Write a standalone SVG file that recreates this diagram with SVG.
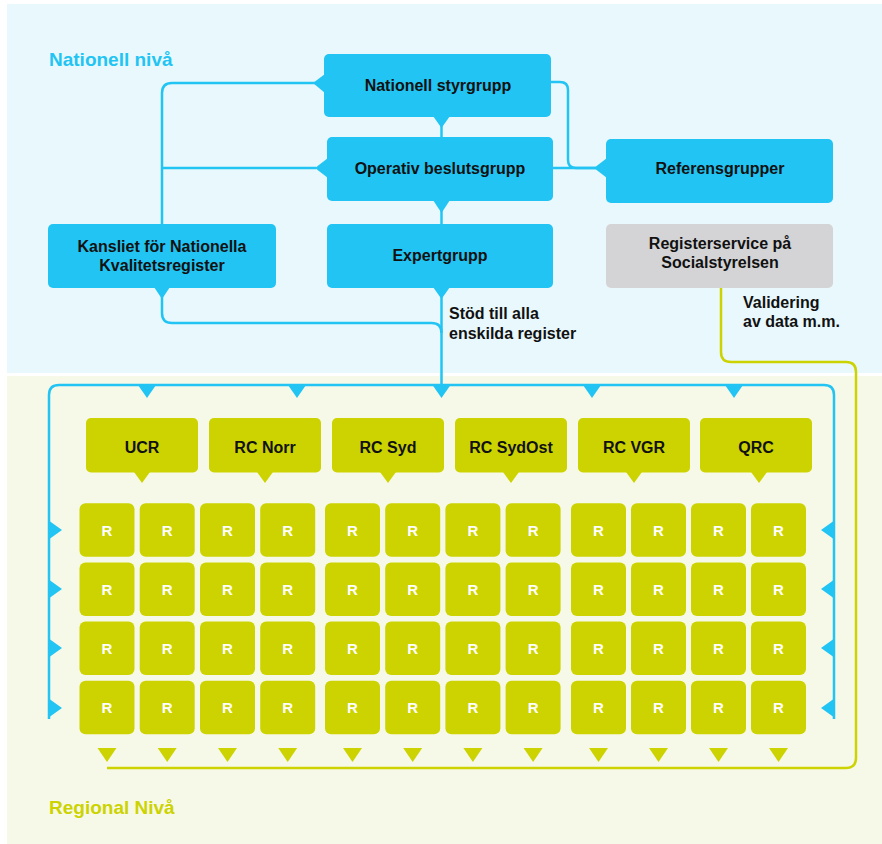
<svg xmlns="http://www.w3.org/2000/svg" width="882" height="844" viewBox="0 0 882 844">
<style>
text{font-family:"Liberation Sans",Arial,Helvetica,sans-serif;font-weight:bold}
.bn{fill:#22c4f3}
.gr{fill:#d4d4d6}
.yg{fill:#ccd300}
.lb{fill:none;stroke:#22c4f3;stroke-width:2.5}
.ly{fill:none;stroke:#ccd300;stroke-width:2.5}
.ta{fill:#22c4f3}
.ty{fill:#ccd300}
.nt{font-size:16px;fill:#111;text-anchor:middle}
.lt{font-size:16px;fill:#111}
.rt{font-size:15px;fill:#fff;text-anchor:middle}
</style>
<rect x="0" y="0" width="882" height="844" fill="#ffffff"/>
<rect x="7" y="4" width="875" height="369" fill="#e9f8fd"/>
<rect x="7" y="376" width="875" height="468" fill="#f7f9e8"/>
<text x="49" y="66" style="font-size:19px;fill:#22c4f3">Nationell nivå</text>
<text x="49" y="814" style="font-size:19px;fill:#ccd300">Regional Nivå</text>

<g id="connectors">
  <path class="lb" d="M162 224V93Q162 83 172 83H316"/>
  <path class="lb" d="M162 168H316"/>
  <path class="lb" d="M441.5 117V137M441.5 201V224M441.5 288V385"/>
  <path class="lb" d="M551 82H560Q568 82 568 90V160Q568 168 576 168H596"/>
  <path class="lb" d="M553 168H596"/>
  <path class="lb" d="M162 288V313Q162 323 172 323H431.5Q441.5 323 441.5 333"/>
  <path class="lb" d="M49 719V395Q49 385 59 385H824Q834 385 834 395V719"/>
  <g class="ta">
    <polygon points="138,385 156,385 147,398"/>
    <polygon points="288,385 306,385 297,398"/>
    <polygon points="432.5,385 450.5,385 441.5,398"/>
    <polygon points="583,385 601,385 592,398"/>
    <polygon points="725,385 743,385 734,398"/>
    <polygon points="48,520 62,530 48,540"/>
    <polygon points="48,579 62,589 48,599"/>
    <polygon points="48,638 62,648 48,658"/>
    <polygon points="48,698 62,708 48,718"/>
    <polygon points="835,520 821,530 835,540"/>
    <polygon points="835,579 821,589 835,599"/>
    <polygon points="835,638 821,648 835,658"/>
    <polygon points="835,698 821,708 835,718"/>
  </g>
  <path class="ly" d="M721 288V352Q721 362 731 362H846Q856 362 856 372V758Q856 768 846 768H107"/>
  <g class="ty">
    <polygon points="97.5,748 116.5,748 107,762"/>
    <polygon points="157.7,748 176.7,748 167.2,762"/>
    <polygon points="218,748 237,748 227.5,762"/>
    <polygon points="278.2,748 297.2,748 287.7,762"/>
    <polygon points="343,748 362,748 352.5,762"/>
    <polygon points="403.2,748 422.2,748 412.7,762"/>
    <polygon points="463.4,748 482.4,748 472.9,762"/>
    <polygon points="523.6,748 542.6,748 533.1,762"/>
    <polygon points="589,748 608,748 598.5,762"/>
    <polygon points="649,748 668,748 658.5,762"/>
    <polygon points="709,748 728,748 718.5,762"/>
    <polygon points="769,748 788,748 778.5,762"/>
  </g>
</g>

<g id="nationell-styrgrupp">
  <rect class="bn" x="324" y="54" width="227" height="63" rx="5"/>
  <polygon class="bn" points="325,74 313,83 325,93"/>
  <polygon class="bn" points="433,116 450,116 441.5,128"/>
  <text class="nt" x="438" y="91">Nationell styrgrupp</text>
</g>
<g id="operativ-beslutsgrupp">
  <rect class="bn" x="327" y="137" width="226" height="64" rx="5"/>
  <polygon class="bn" points="328,158 315,168 328,178"/>
  <polygon class="bn" points="433,200 450,200 441.5,213"/>
  <text class="nt" x="440" y="174">Operativ beslutsgrupp</text>
</g>
<g id="expertgrupp">
  <rect class="bn" x="327" y="224" width="226" height="64" rx="5"/>
  <polygon class="bn" points="433,287 450,287 441.5,299"/>
  <text class="nt" x="440" y="261">Expertgrupp</text>
</g>
<g id="referensgrupper">
  <rect class="bn" x="606" y="139" width="227" height="64" rx="5"/>
  <polygon class="bn" points="607,158 594,168 607,178"/>
  <text class="nt" x="720" y="174">Referensgrupper</text>
</g>
<g id="registerservice">
  <rect class="gr" x="606" y="224" width="227" height="64" rx="5"/>
  <text class="nt" x="720" y="249">Registerservice på</text>
  <text class="nt" x="720" y="268">Socialstyrelsen</text>
</g>
<g id="kansliet">
  <rect class="bn" x="48" y="224" width="228" height="64" rx="5"/>
  <polygon class="bn" points="154,287 170,287 162,299"/>
  <text class="nt" x="162" y="252">Kansliet för Nationella</text>
  <text class="nt" x="162" y="271">Kvalitetsregister</text>
</g>
<g id="label-stod">
  <text class="lt" x="449" y="319">Stöd till alla</text>
  <text class="lt" x="449" y="339">enskilda register</text>
</g>
<g id="label-validering">
  <text class="lt" x="743" y="308">Validering</text>
  <text class="lt" x="743" y="327">av data m.m.</text>
</g>

<g id="ucr">
  <rect class="yg" x="86" y="418" width="112" height="54.5" rx="5"/>
  <polygon class="yg" points="134,472 150,472 142,483"/>
  <text class="nt" x="142" y="453">UCR</text>
</g>
<g id="rc-norr">
  <rect class="yg" x="209" y="418" width="112" height="54.5" rx="5"/>
  <polygon class="yg" points="257,472 273,472 265,483"/>
  <text class="nt" x="265" y="453">RC Norr</text>
</g>
<g id="rc-syd">
  <rect class="yg" x="332" y="418" width="112" height="54.5" rx="5"/>
  <polygon class="yg" points="380,472 396,472 388,483"/>
  <text class="nt" x="388" y="453">RC Syd</text>
</g>
<g id="rc-sydost">
  <rect class="yg" x="455" y="418" width="112" height="54.5" rx="5"/>
  <polygon class="yg" points="503,472 519,472 511,483"/>
  <text class="nt" x="511" y="453">RC SydOst</text>
</g>
<g id="rc-vgr">
  <rect class="yg" x="578" y="418" width="112" height="54.5" rx="5"/>
  <polygon class="yg" points="626,472 642,472 634,483"/>
  <text class="nt" x="634" y="453">RC VGR</text>
</g>
<g id="qrc">
  <rect class="yg" x="700" y="418" width="112" height="54.5" rx="5"/>
  <polygon class="yg" points="751,472 767,472 759,483"/>
  <text class="nt" x="756" y="453">QRC</text>
</g>

<defs>
  <g id="rb">
    <rect class="yg" x="0" y="0" width="55" height="53.5" rx="6"/>
    <text class="rt" x="27.5" y="32.5">R</text>
  </g>
</defs>
<g id="registers">
  <g id="row1">
    <use href="#rb" x="79.5" y="503.3"/><use href="#rb" x="139.7" y="503.3"/><use href="#rb" x="200" y="503.3"/><use href="#rb" x="260.2" y="503.3"/>
    <use href="#rb" x="325" y="503.3"/><use href="#rb" x="385.2" y="503.3"/><use href="#rb" x="445.4" y="503.3"/><use href="#rb" x="505.6" y="503.3"/>
    <use href="#rb" x="571" y="503.3"/><use href="#rb" x="631" y="503.3"/><use href="#rb" x="691" y="503.3"/><use href="#rb" x="751" y="503.3"/>
  </g>
  <g id="row2">
    <use href="#rb" x="79.5" y="562.4"/><use href="#rb" x="139.7" y="562.4"/><use href="#rb" x="200" y="562.4"/><use href="#rb" x="260.2" y="562.4"/>
    <use href="#rb" x="325" y="562.4"/><use href="#rb" x="385.2" y="562.4"/><use href="#rb" x="445.4" y="562.4"/><use href="#rb" x="505.6" y="562.4"/>
    <use href="#rb" x="571" y="562.4"/><use href="#rb" x="631" y="562.4"/><use href="#rb" x="691" y="562.4"/><use href="#rb" x="751" y="562.4"/>
  </g>
  <g id="row3">
    <use href="#rb" x="79.5" y="621.5"/><use href="#rb" x="139.7" y="621.5"/><use href="#rb" x="200" y="621.5"/><use href="#rb" x="260.2" y="621.5"/>
    <use href="#rb" x="325" y="621.5"/><use href="#rb" x="385.2" y="621.5"/><use href="#rb" x="445.4" y="621.5"/><use href="#rb" x="505.6" y="621.5"/>
    <use href="#rb" x="571" y="621.5"/><use href="#rb" x="631" y="621.5"/><use href="#rb" x="691" y="621.5"/><use href="#rb" x="751" y="621.5"/>
  </g>
  <g id="row4">
    <use href="#rb" x="79.5" y="680.7"/><use href="#rb" x="139.7" y="680.7"/><use href="#rb" x="200" y="680.7"/><use href="#rb" x="260.2" y="680.7"/>
    <use href="#rb" x="325" y="680.7"/><use href="#rb" x="385.2" y="680.7"/><use href="#rb" x="445.4" y="680.7"/><use href="#rb" x="505.6" y="680.7"/>
    <use href="#rb" x="571" y="680.7"/><use href="#rb" x="631" y="680.7"/><use href="#rb" x="691" y="680.7"/><use href="#rb" x="751" y="680.7"/>
  </g>
</g>
</svg>
